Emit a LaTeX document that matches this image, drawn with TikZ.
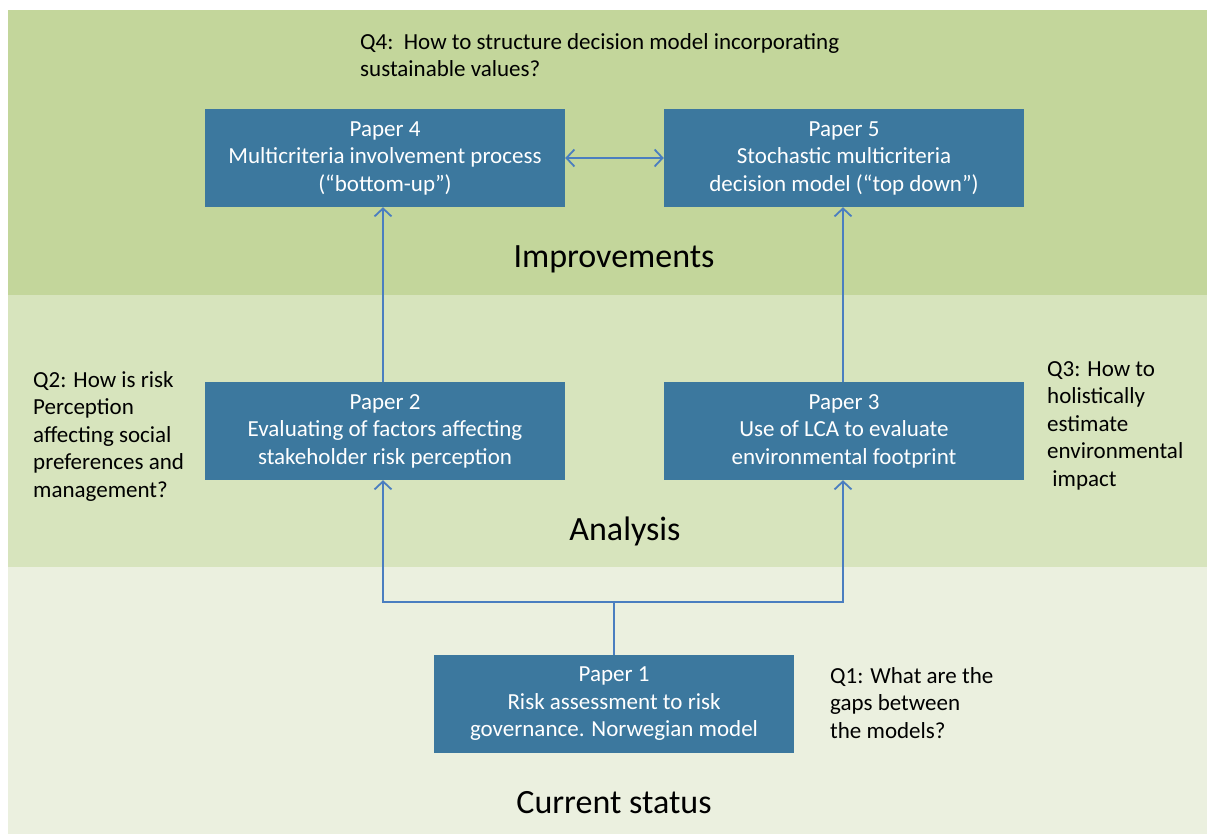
\documentclass[tikz,border=0pt]{standalone}
\usepackage{fontspec}
\setmainfont{Carlito}
\usetikzlibrary{arrows.meta}
\definecolor{bandtop}{HTML}{C3D69B}
\definecolor{bandmid}{HTML}{D7E4BD}
\definecolor{bandlow}{HTML}{EBF0DF}
\definecolor{boxblue}{HTML}{3C789E}
\definecolor{linkblue}{HTML}{4A7EC0}
\tikzset{
  paper/.style={draw=none, fill=boxblue, text=white, minimum width=360pt, minimum height=98pt,
    align=center, inner sep=0pt, font=\fontsize{23}{27.5}\selectfont},
  question/.style={align=left, anchor=north west, inner sep=0pt, font=\fontsize{23}{27.5}\selectfont},
  level/.style={inner sep=0pt, font=\fontsize{34}{40}\selectfont},
  link/.style={draw=linkblue, line width=1.8pt, -{Straight Barb[length=8pt,width=17pt,line width=1.8pt]}},
  biglink/.style={draw=linkblue, line width=1.8pt, {Straight Barb[length=8pt,width=17pt,line width=1.8pt]}-{Straight Barb[length=8pt,width=17pt,line width=1.8pt]}}
}
\begin{document}
\begin{tikzpicture}[x=1pt,y=-1pt]
  \useasboundingbox (0,0) rectangle (1207,834);
  \fill[white] (0,0) rectangle (1207,834);
  % three horizontal bands
  \fill[bandtop] (8,10) rectangle (1207,295);
  \fill[bandmid] (8,295) rectangle (1207,567);
  \fill[bandlow] (8,567) rectangle (1207,834);

  % level titles
  \node[level] (limp) at (614,259) {Improvements};
  \node[level] (lana) at (625,531) {Analysis};
  \node[level] (lcur) at (614,803) {Current status};

  % paper boxes
  \node[paper] (p4) at (385,158) {Paper 4\\Multicriteria involvement process\\(“bottom-up”)};
  \node[paper] (p5) at (844,158) {Paper 5\\Stochastic multicriteria\\decision model (“top down”)};
  \node[paper] (p2) at (385,431) {Paper 2\\Evaluating of factors affecting\\stakeholder risk perception};
  \node[paper] (p3) at (844,431) {Paper 3\\Use of LCA to evaluate\\environmental footprint};
  \node[paper] (p1) at (614,704) {Paper 1\\Risk assessment to risk\\governance. Norwegian model};

  % research questions
  \node[question] (q4) at (360,33) {Q4:\ \ How to structure decision model incorporating\\sustainable values?};
  \node[question] (q2) at (33,371) {Q2: How is risk\\Perception\\affecting social\\preferences and\\management?};
  \node[question] (q3) at (1047,361) {Q3: How to\\holistically\\estimate\\environmental\\\ impact};
  \node[question] (q1) at (830,667) {Q1: What are the\\gaps between\\the models?};

  % connectors
  \coordinate (split) at (614,602);
  \draw[biglink] (p4.east) -- (p5.west);
  \draw[link] (p2.north -| 383,0) -- (p4.south -| 383,0);
  \draw[link] (p3.north -| 843,0) -- (p5.south -| 843,0);
  \draw[draw=linkblue, line width=1.8pt] (p1.north) -- (split);
  \draw[link] (split) -- (383,602) -- (p2.south -| 383,0);
  \draw[link] (split) -- (843,602) -- (p3.south -| 843,0);
\end{tikzpicture}
\end{document}
